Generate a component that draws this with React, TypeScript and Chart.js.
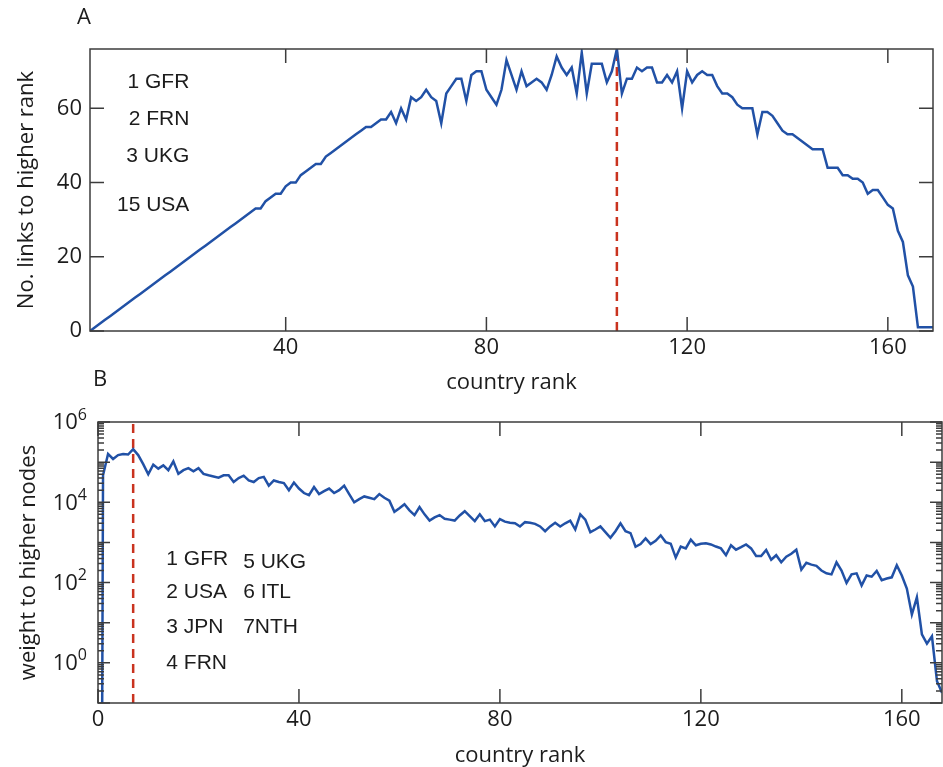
import React, { useEffect, useRef } from 'react';
import { Chart, registerables } from 'chart.js';

Chart.register(...registerables);

// ---------- Panel A data: number of links to higher-ranked countries ----------
const ranksA = Array.from({ length: 169 }, (_, i) => i + 1);
const linksA = [
  0, 1, 2, 3, 4, 5, 6, 7, 8, 9,
  10, 11, 12, 13, 14, 15, 16, 17, 18, 19,
  20, 21, 22, 23, 24, 25, 26, 27, 28, 29,
  30, 31, 32, 33, 33, 35, 36, 37, 37, 39,
  40, 40, 42, 43, 44, 45, 45, 47, 48, 49,
  50, 51, 52, 53, 54, 55, 55, 56, 57, 57,
  59, 56, 60, 57, 63, 62, 63, 65, 63, 62,
  56, 64, 66, 68, 68, 62, 69, 70, 70, 65,
  63, 61, 65, 73, 69, 65, 70, 66, 67, 68,
  67, 65, 69, 74, 71, 69, 71, 64, 75, 64,
  72, 72, 72, 67, 70, 76, 64, 68, 68, 71,
  70, 71, 71, 67, 67, 69, 67, 70, 60, 70,
  67, 69, 70, 69, 69, 66, 64, 64, 63, 61,
  60, 60, 60, 53, 59, 59, 58, 56, 54, 53,
  53, 52, 51, 50, 49, 49, 49, 44, 44, 44,
  42, 42, 41, 41, 40, 37, 38, 38, 36, 34,
  33, 27, 24, 15, 12, 1, 1, 1, 1,
];
const dividerA = [106];
const xRangeA = [1, 169];
const yRangeA = [0, 76];
const xTicksA = [40, 80, 120, 160];
const yTicksA = [0, 20, 40, 60];
const notesA = ['1 GFR', '2 FRN', '3 UKG', '15 USA'];

// ---------- Panel B data: weight to higher-ranked countries ----------
const ranksB = Array.from({ length: 169 }, (_, i) => i);
const weightsB = [
  1e-30, 4.7e4, 1.6e5, 1.2e5, 1.5e5, 1.6e5, 1.55e5, 2.1e5, 1.5e5, 8.9e4,
  5.0e4, 8.7e4, 6.9e4, 8.3e4, 6.3e4, 1.05e5, 5.1e4, 6.3e4, 7.1e4, 5.9e4,
  7.1e4, 5.1e4, 4.7e4, 4.4e4, 4.1e4, 4.7e4, 4.7e4, 3.2e4, 4.0e4, 4.6e4,
  3.5e4, 3.2e4, 4.0e4, 4.3e4, 2.6e4, 3.5e4, 3.2e4, 3.0e4, 2.0e4, 3.1e4,
  2.2e4, 1.7e4, 1.5e4, 2.4e4, 1.6e4, 1.9e4, 2.2e4, 1.7e4, 2.0e4, 2.6e4,
  1.6e4, 1.0e4, 1.2e4, 1.4e4, 1.3e4, 1.2e4, 1.6e4, 1.3e4, 1.1e4, 5.8e3,
  7.1e3, 8.9e3, 6.3e3, 4.8e3, 7.6e3, 5.0e3, 3.5e3, 4.2e3, 4.8e3, 3.9e3,
  3.7e3, 3.5e3, 4.7e3, 6.0e3, 4.5e3, 3.4e3, 5.0e3, 3.4e3, 3.7e3, 2.5e3,
  3.8e3, 3.3e3, 3.1e3, 3.0e3, 2.5e3, 3.2e3, 3.1e3, 2.9e3, 2.5e3, 1.9e3,
  2.5e3, 3.1e3, 2.5e3, 3.0e3, 3.5e3, 2.1e3, 5.0e3, 3.7e3, 1.8e3, 2.1e3,
  2.5e3, 1.8e3, 1.3e3, 1.9e3, 3.0e3, 1.9e3, 1.7e3, 780, 910, 1260,
  910, 1100, 1500, 1020, 930, 420, 790, 710, 1170, 850,
  930, 950, 890, 790, 710, 480, 850, 660, 760, 890,
  710, 460, 460, 650, 370, 480, 320, 440, 520, 660,
  210, 310, 280, 260, 200, 170, 160, 320, 200, 98,
  160, 170, 85, 150, 140, 195, 115, 126, 135, 270,
  150, 71, 16, 43, 5.1, 3.0, 4.6, 0.35, 0.18,
];
const dividerB = [7];
const xRangeB = [0, 168];
const yRangeB = [0.1, 1e6];
const xTicksB = [0, 40, 80, 120, 160];
const yExponentsB = [0, 2, 4, 6];
const notesB1 = ['1 GFR', '2 USA', '3 JPN', '4 FRN'];
const notesB2 = ['5 UKG', '6 ITL', '7NTH'];

// ---------- styles ----------
const BLUE = '#2151a6';
const RED = '#c9331f';
const FRAME = '#3c3c3c';
const TEXT = '#1c1c1c';
const AXIS_FONT = "'Open Sans', 'Noto Sans', sans-serif";
const NOTE_FONT = "'Liberation Sans', Arial, sans-serif";
const W = 943;

type PanelCfg = {
  letter: string;
  letterPos: [number, number];
  xTicks: number[];
  log: boolean;
  notes: { text: string; x: number; y: number; align: CanvasTextAlign }[];
};

function panelPlugin(cfg: PanelCfg) {
  return {
    id: 'panelDecor',
    afterDraw(chart: any) {
      const { ctx, chartArea } = chart;
      const { left, right, top, bottom } = chartArea;
      const xs = chart.scales.x;
      const ys = chart.scales.y;
      ctx.save();
      // frame
      ctx.strokeStyle = FRAME;
      ctx.lineWidth = 1.5;
      ctx.strokeRect(left, top, right - left, bottom - top);
      // inward x ticks, bottom and top
      ctx.beginPath();
      const major = 14;
      for (const v of cfg.xTicks) {
        const p = xs.getPixelForValue(v);
        ctx.moveTo(p, bottom);
        ctx.lineTo(p, bottom - major);
        ctx.moveTo(p, top);
        ctx.lineTo(p, top + major);
      }
      // y ticks, left and right
      if (!cfg.log) {
        for (const t of ys.ticks) {
          const p = ys.getPixelForValue(t.value);
          ctx.moveTo(left, p);
          ctx.lineTo(left + major, p);
          ctx.moveTo(right, p);
          ctx.lineTo(right - major, p);
        }
      } else {
        for (let e = -1; e <= 6; e++) {
          for (let m = 1; m <= 9; m++) {
            const v = m * Math.pow(10, e);
            if (v < ys.min * 0.999 || v > ys.max * 1.001) continue;
            const p = ys.getPixelForValue(v);
            const len = m === 1 ? 12 : 6;
            ctx.moveTo(left, p);
            ctx.lineTo(left + len, p);
            ctx.moveTo(right, p);
            ctx.lineTo(right - len, p);
          }
        }
      }
      ctx.stroke();

      // log tick labels 10^n
      if (cfg.log) {
        ctx.fillStyle = TEXT;
        ctx.textBaseline = 'middle';
        ctx.textAlign = 'left';
        const rightEdge = left - 11;
        for (const e of yExponentsB) {
          const p = ys.getPixelForValue(Math.pow(10, e));
          ctx.font = `16px ${AXIS_FONT}`;
          const we = ctx.measureText(String(e)).width;
          ctx.font = `22px ${AXIS_FONT}`;
          const wb = ctx.measureText('10').width;
          ctx.fillText('10', rightEdge - we - wb, p + 1);
          ctx.font = `16px ${AXIS_FONT}`;
          ctx.fillText(String(e), rightEdge - we, p - 7);
        }
      }

      // annotation texts (in data coordinates)
      ctx.fillStyle = TEXT;
      ctx.font = `21px ${NOTE_FONT}`;
      ctx.textBaseline = 'middle';
      for (const n of cfg.notes) {
        ctx.textAlign = n.align;
        ctx.fillText(n.text, xs.getPixelForValue(n.x), ys.getPixelForValue(n.y));
      }
      // panel letter
      ctx.font = `22px ${AXIS_FONT}`;
      ctx.textAlign = 'center';
      ctx.fillText(cfg.letter, cfg.letterPos[0], cfg.letterPos[1]);
      ctx.restore();
    },
  };
}

function makePanelA(canvas: HTMLCanvasElement) {
  const notesY = [67, 57.2, 47.2, 34];
  return new Chart(canvas, {
    type: 'line',
    data: {
      datasets: [
        {
          data: ranksA.map((x, i) => ({ x, y: linksA[i] })),
          borderColor: BLUE,
          borderWidth: 2.5,
          pointRadius: 0,
          tension: 0,
        },
        {
          data: [
            { x: dividerA[0], y: yRangeA[0] },
            { x: dividerA[0], y: yRangeA[1] },
          ],
          borderColor: RED,
          borderWidth: 2.5,
          borderDash: [9, 6],
          pointRadius: 0,
        },
      ],
    },
    options: {
      animation: false,
      responsive: false,
      devicePixelRatio: 1,
      layout: { padding: { top: 49, right: 10, left: 0, bottom: 0 } },
      plugins: { legend: { display: false }, tooltip: { enabled: false } },
      scales: {
        x: {
          type: 'linear',
          min: xRangeA[0],
          max: xRangeA[1],
          afterBuildTicks: (s: any) => {
            s.ticks = xTicksA.map((v) => ({ value: v }));
          },
          afterFit: (s: any) => {
            s.height = 67;
          },
          grid: { display: false, drawTicks: false },
          border: { display: false },
          ticks: { color: TEXT, padding: 4, font: { size: 22, family: AXIS_FONT }, maxRotation: 0 },
          title: {
            display: true,
            text: 'country rank',
            color: TEXT,
            font: { size: 22, family: AXIS_FONT },
            padding: { top: 0, bottom: 2 },
          },
        },
        y: {
          type: 'linear',
          min: yRangeA[0],
          max: yRangeA[1],
          afterBuildTicks: (s: any) => {
            s.ticks = yTicksA.map((v) => ({ value: v }));
          },
          afterFit: (s: any) => {
            s.width = 90;
          },
          grid: { display: false, drawTicks: false },
          border: { display: false },
          ticks: { color: TEXT, padding: 8, font: { size: 22, family: AXIS_FONT } },
          title: {
            display: true,
            text: 'No. links to higher rank',
            color: TEXT,
            font: { size: 22, family: AXIS_FONT },
            padding: { top: 14, bottom: 0 },
          },
        },
      },
    },
    plugins: [
      panelPlugin({
        letter: 'A',
        letterPos: [84, 18],
        xTicks: xTicksA,
        log: false,
        notes: notesA.map((t, i) => ({ text: t, x: 20.8, y: notesY[i], align: 'right' as CanvasTextAlign })),
      }),
    ],
  } as any);
}

function makePanelB(canvas: HTMLCanvasElement) {
  const col1Y = [2.58, 1.76, 0.89, -0.01];
  const col2Y = [2.5, 1.75, 0.89];
  const notes = [
    ...notesB1.map((t, i) => ({ text: t, x: 13.6, y: Math.pow(10, col1Y[i]), align: 'left' as CanvasTextAlign })),
    ...notesB2.map((t, i) => ({ text: t, x: 28.9, y: Math.pow(10, col2Y[i]), align: 'left' as CanvasTextAlign })),
  ];
  return new Chart(canvas, {
    type: 'line',
    data: {
      datasets: [
        {
          data: ranksB.map((x, i) => ({ x, y: weightsB[i] })),
          borderColor: BLUE,
          borderWidth: 2.5,
          pointRadius: 0,
          tension: 0,
        },
        {
          data: [
            { x: dividerB[0], y: yRangeB[0] },
            { x: dividerB[0], y: yRangeB[1] },
          ],
          borderColor: RED,
          borderWidth: 2.5,
          borderDash: [9, 6],
          pointRadius: 0,
        },
      ],
    },
    options: {
      animation: false,
      responsive: false,
      devicePixelRatio: 1,
      layout: { padding: { top: 62, right: 1, left: 0, bottom: 0 } },
      plugins: { legend: { display: false }, tooltip: { enabled: false } },
      scales: {
        x: {
          type: 'linear',
          min: xRangeB[0],
          max: xRangeB[1],
          afterBuildTicks: (s: any) => {
            s.ticks = xTicksB.map((v) => ({ value: v }));
          },
          afterFit: (s: any) => {
            s.height = 67;
          },
          grid: { display: false, drawTicks: false },
          border: { display: false },
          ticks: { color: TEXT, padding: 4, font: { size: 22, family: AXIS_FONT }, maxRotation: 0 },
          title: {
            display: true,
            text: 'country rank',
            color: TEXT,
            font: { size: 22, family: AXIS_FONT },
            padding: { top: 0, bottom: 1 },
          },
        },
        y: {
          type: 'logarithmic',
          min: yRangeB[0],
          max: yRangeB[1],
          afterBuildTicks: (s: any) => {
            s.ticks = yExponentsB.map((e) => ({ value: Math.pow(10, e) }));
          },
          afterFit: (s: any) => {
            s.width = 98;
          },
          grid: { display: false, drawTicks: false },
          border: { display: false },
          ticks: { display: false },
          title: {
            display: true,
            text: 'weight to higher nodes',
            color: TEXT,
            font: { size: 22, family: AXIS_FONT },
            padding: { top: 16, bottom: 0 },
          },
        },
      },
    },
    plugins: [
      panelPlugin({
        letter: 'B',
        letterPos: [100, 20],
        xTicks: xTicksB,
        log: true,
        notes,
      }),
    ],
  } as any);
}

export default function App() {
  const refA = useRef<HTMLCanvasElement>(null);
  const refB = useRef<HTMLCanvasElement>(null);

  useEffect(() => {
    const a = makePanelA(refA.current!);
    const b = makePanelB(refB.current!);
    return () => {
      a.destroy();
      b.destroy();
    };
  }, []);

  return (
    <div style={{ position: 'fixed', left: 0, top: 0, width: W, height: 767, background: '#fff', overflow: 'hidden' }}>
      <canvas ref={refA} width={W} height={398} style={{ position: 'absolute', left: 0, top: 0 }} />
      <canvas ref={refB} width={W} height={410} style={{ position: 'absolute', left: 0, top: 360 }} />
    </div>
  );
}
